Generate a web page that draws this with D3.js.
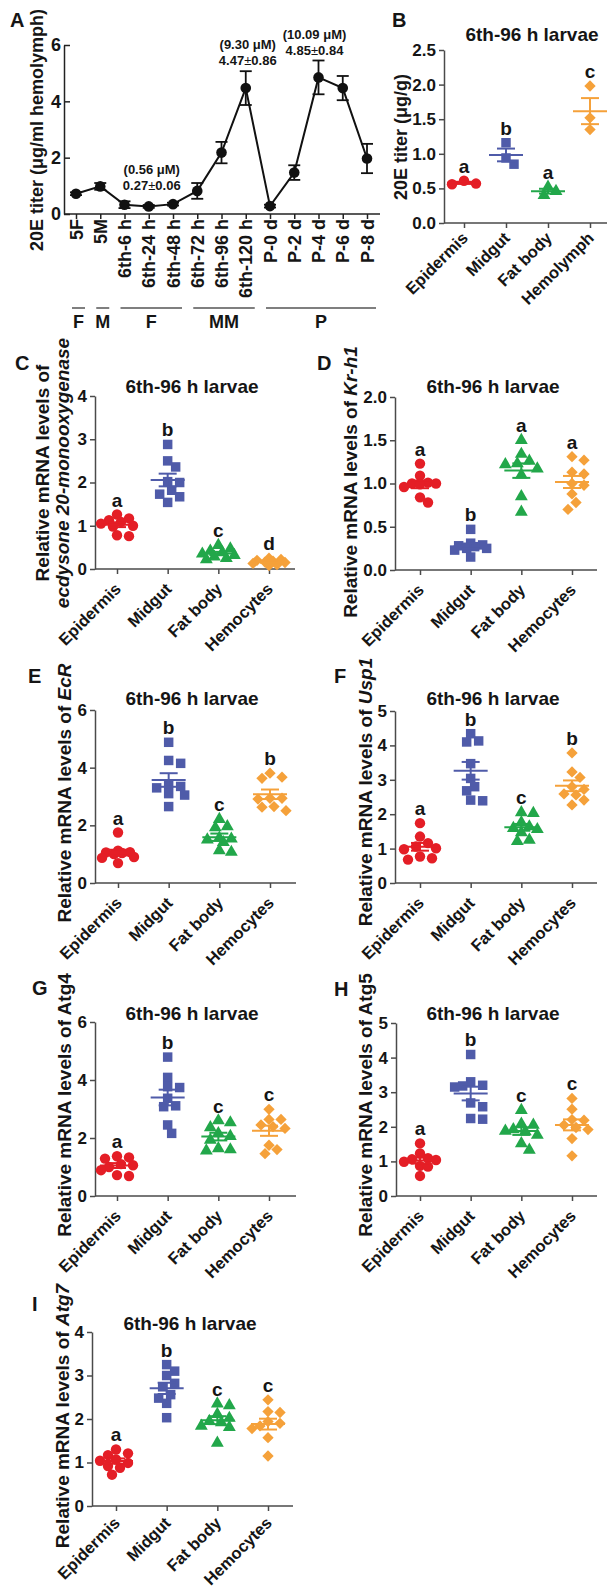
<!DOCTYPE html>
<html><head><meta charset="utf-8">
<script src="https://cdn.jsdelivr.net/npm/d3@7"></script>
<style>
body{margin:0;background:#fff;}
svg{display:block;}
</style></head><body>
<svg id="fig" width="608" height="1589"></svg>
<script>
// ================= DATA =================
// Panel A: 20E titer during development
const stagesA = ["5F","5M","6th-6 h","6th-24 h","6th-48 h","6th-72 h","6th-96 h","6th-120 h","P-0 d","P-2 d","P-4 d","P-6 d","P-8 d"];
const titerA  = [0.72,0.98,0.33,0.27,0.35,0.82,2.18,4.47,0.28,1.47,4.85,4.47,1.97];
const semA    = [0.05,0.12,0.12,0.05,0.05,0.28,0.38,0.60,0.05,0.26,0.60,0.43,0.52];
const groupLabelsA = ["F","M","F","MM","P"];
const groupStartA  = ["5F","5M","6th-6 h","6th-72 h","P-0 d"];
const groupEndA    = ["5F","5M","6th-48 h","6th-120 h","P-8 d"];
const annotStageA  = ["6th-24 h","6th-120 h","P-4 d"];
const annotMolarA  = ["(0.56 μM)","(9.30 μM)","(10.09 μM)"];
const annotMeanA   = ["0.27","4.47","4.85"];
const annotSdA     = ["0.06","0.86","0.84"];
const yTicksA = [0,2,4,6];

// Panel B: 20E titer in tissues
const tissuesB = ["Epidermis","Midgut","Fat body","Hemolymph"];
const titerB = [[0.61,0.57,0.56],[1.16,0.94,0.85],[0.52,0.46,0.40],[1.98,1.52,1.35]];
const lettersB = ["a","b","a","c"];
const yTicksB = [0,0.5,1.0,1.5,2.0,2.5];

// Panels C-I: relative mRNA levels
const tissues = ["Epidermis","Midgut","Fat body","Hemocytes"];
const ecdC  = [[1.26,1.17,1.13,1.09,1.05,1.0,0.98,0.78,0.76],[2.88,2.5,2.36,2.02,2.0,1.82,1.73,1.67,1.54],[0.55,0.47,0.42,0.38,0.35,0.32,0.28,0.25,0.22],[0.25,0.22,0.2,0.18,0.16,0.15,0.13,0.1,0.08]];
const krD   = [[1.23,1.09,1.01,1.0,1.0,0.99,0.96,0.84,0.78],[0.47,0.31,0.29,0.28,0.27,0.25,0.25,0.23,0.15],[1.5,1.34,1.26,1.23,1.22,1.17,1.1,0.85,0.67],[1.31,1.27,1.13,1.11,1.0,0.98,0.88,0.78,0.7]];
const ecrE  = [[1.75,1.12,1.07,1.06,1.04,1.0,0.9,0.87,0.69],[4.88,4.25,4.15,3.42,3.35,3.3,3.1,3.05,2.65],[2.21,1.96,1.92,1.56,1.53,1.5,1.41,1.13,1.07],[3.81,3.63,3.67,2.94,2.91,2.94,2.65,2.63,2.51]];
const uspF  = [[1.74,1.35,1.16,1.06,1.01,0.98,0.77,0.72,0.68],[4.34,4.13,4.1,3.47,3.04,2.8,2.68,2.41,2.39],[2.05,2.03,1.76,1.64,1.59,1.56,1.47,1.25,1.21],[3.78,3.23,3.07,2.8,2.72,2.59,2.56,2.41,2.27]];
const atg4G = [[1.37,1.33,1.29,1.1,1.06,1.0,0.89,0.72,0.69],[4.79,4.09,3.77,3.74,3.37,3.11,3.08,2.45,2.16],[2.6,2.53,2.36,2.16,2.06,1.93,1.64,1.56,1.6],[2.99,2.64,2.64,2.45,2.39,2.33,1.75,1.6,1.46]];
const atg5H = [[1.52,1.23,1.09,1.06,1.04,0.99,0.87,0.85,0.58],[4.09,3.3,3.2,3.18,3.15,2.69,2.58,2.24,2.22],[2.48,2.08,2.05,1.92,1.88,1.86,1.76,1.52,1.33],[2.82,2.51,2.19,2.21,2.05,1.98,1.92,1.66,1.16]];
const atg7I = [[1.3,1.21,1.17,1.07,1.04,0.99,0.92,0.88,0.72],[3.25,3.1,3.0,2.82,2.74,2.56,2.48,2.36,2.03],[2.35,2.31,2.11,2.02,1.95,1.92,1.84,1.81,1.45],[2.44,2.17,2.15,1.94,1.9,1.84,1.78,1.57,1.15]];
const lettersC = ["a","b","c","d"];
const lettersD = ["a","b","a","a"];
const lettersE = ["a","b","c","b"];
const lettersF = ["a","b","c","b"];
const lettersG = ["a","b","c","c"];
const lettersH = ["a","b","c","c"];
const lettersI = ["a","b","c","c"];
const ticksC = [0,1,2,3,4];
const ticksD = [0,0.5,1.0,1.5,2.0];
const ticksE = [0,2,4,6];
const ticksF = [0,1,2,3,4,5];
const ticksG = [0,2,4,6];
const ticksH = [0,1,2,3,4,5];
const ticksI = [0,1,2,3,4];
const titleText = "6th-96 h larvae";

// ================= STYLE =================
const FONT = '"Liberation Sans", Arial, Helvetica, sans-serif';
const COLORS = ["#e41e26","#4f5ba9","#22a74a","#f5a13a"];
const SHAPES = ["circle","square","triangle","diamond"];
const AXIS_COLOR = "#4a4a4a";
const INK = "#151515";

const svg = d3.select("#fig").attr("font-family", FONT);

function meanOf(a){ return d3.mean(a); }
function semOf(a){ return d3.deviation(a)/Math.sqrt(a.length); }

function symbolPath(shape){
  if (shape==="circle") return d3.symbol().type(d3.symbolCircle).size(85)();
  if (shape==="square") return d3.symbol().type(d3.symbolSquare).size(90)();
  if (shape==="triangle") return d3.symbol().type(d3.symbolTriangle).size(72)();
  return d3.symbol().type(d3.symbolSquare).size(64)();
}

// deterministic beeswarm with limited width (points may overlap, like Prism)
function swarm(vals, y, d, maxOff, step){
  const idx = vals.map((v,i)=>i).sort((a,b)=>vals[b]-vals[a]);
  const placed = [];
  const off = new Array(vals.length).fill(0);
  const cands = [0];
  for (let k=step;k<=maxOff+0.01;k+=step){ cands.push(k); cands.push(-k); }
  idx.forEach(i=>{
    const py = y(vals[i]);
    let best = null, bestScore = -1;
    for (const px of cands){
      const md = placed.length ? d3.min(placed, p=>Math.hypot(p[0]-px,p[1]-py)) : Infinity;
      if (md >= d){ best = px; break; }
      if (md > bestScore){ bestScore = md; best = px; }
    }
    off[i]=best; placed.push([best,py]);
  });
  return off;
}

function styleAxis(g, size){
  g.attr("font-family", FONT);
  g.selectAll(".domain").attr("stroke", AXIS_COLOR).attr("stroke-width",1.5);
  g.selectAll(".tick line").attr("stroke", AXIS_COLOR).attr("stroke-width",1.5);
  g.selectAll(".tick text").attr("font-size",size).attr("font-weight","bold").attr("fill",INK);
}

function tag(x,y,t){
  svg.append("text").attr("x",x).attr("y",y).attr("font-size",20).attr("font-weight","bold").attr("fill",INK).text(t);
}

// ================= PANEL A =================
(function(){
  const L = {x0:64, x1:380, xFirst:76, xLast:367, yTop:45, yBot:214, groupY:308, groupLabelY:328,
             annotDx:[3,2,-4], annotGap:[15,6,5]};
  const x = d3.scalePoint().domain(stagesA).range([L.xFirst, L.xLast]);
  const y = d3.scaleLinear().domain([0,6]).range([L.yBot, L.yTop]);
  const g = svg.append("g");

  const ya = g.append("g").attr("transform",`translate(${L.x0},0)`)
    .call(d3.axisLeft(y).tickValues(yTicksA).tickFormat(d3.format("d")).tickSizeInner(-6).tickSizeOuter(0).tickPadding(3));
  styleAxis(ya, 18);
  ya.selectAll(".domain").attr("stroke","#222");
  ya.selectAll(".tick line").attr("stroke","#222");

  const xa = g.append("g").attr("transform",`translate(0,${L.yBot})`)
    .call(d3.axisBottom(x).tickSize(5).tickFormat(""));
  xa.select(".domain").remove();
  styleAxis(xa, 16);
  xa.selectAll(".tick line").attr("stroke","#222");
  g.append("line").attr("x1",L.x0).attr("x2",L.x1).attr("y1",L.yBot).attr("y2",L.yBot).attr("stroke","#222").attr("stroke-width",1.5);

  g.selectAll(".xl").data(stagesA).join("text")
    .attr("transform",d=>`translate(${x(d)+6.5},${L.yBot+5}) rotate(-90)`)
    .attr("text-anchor","end").attr("font-size",18).attr("font-weight","bold").attr("fill",INK).text(d=>d);

  const pts = stagesA.map((s,i)=>[x(s), y(titerA[i])]);
  g.append("path").attr("d", d3.line()(pts)).attr("fill","none").attr("stroke","#111").attr("stroke-width",2);
  stagesA.forEach((s,i)=>{
    const cx = x(s), yt = y(titerA[i]+semA[i]), yb = y(titerA[i]-semA[i]);
    g.append("line").attr("x1",cx).attr("x2",cx).attr("y1",yt).attr("y2",yb).attr("stroke","#111").attr("stroke-width",1.8);
    [yt,yb].forEach(yy=> g.append("line").attr("x1",cx-6).attr("x2",cx+6).attr("y1",yy).attr("y2",yy).attr("stroke","#111").attr("stroke-width",1.8));
  });
  g.selectAll(".pt").data(stagesA).join("circle")
    .attr("cx",d=>x(d)).attr("cy",(d,i)=>y(titerA[i])).attr("r",5.3).attr("fill","#111");

  annotStageA.forEach((s,k)=>{
    const i = stagesA.indexOf(s);
    const cx = x(s)+L.annotDx[k];
    const base2 = y(titerA[i]+semA[i]) - L.annotGap[k];
    g.append("text").attr("x",cx).attr("y",base2-16).attr("text-anchor","middle").attr("font-size",13).attr("font-weight","bold").attr("fill",INK).text(annotMolarA[k]);
    const t = g.append("text").attr("x",cx).attr("y",base2).attr("text-anchor","middle").attr("font-size",13).attr("font-weight","bold").attr("fill",INK);
    t.append("tspan").text(annotMeanA[k]);
    t.append("tspan").attr("font-weight","normal").text("±");
    t.append("tspan").text(annotSdA[k]);
  });

  groupLabelsA.forEach((lab,k)=>{
    const xa0 = x(groupStartA[k]) - 4, xa1 = x(groupEndA[k]) + 9;
    g.append("line").attr("x1",xa0).attr("x2",xa1).attr("y1",L.groupY).attr("y2",L.groupY).attr("stroke","#555").attr("stroke-width",1.5);
    g.append("text").attr("x",(xa0+xa1)/2).attr("y",L.groupLabelY).attr("text-anchor","middle").attr("font-size",18).attr("font-weight","bold").attr("fill",INK).text(lab);
  });

  g.append("text").attr("transform",`translate(43,130) rotate(-90)`).attr("text-anchor","middle")
    .attr("font-size",18).attr("font-weight","bold").attr("fill",INK).text("20E titer (μg/ml hemolymph)");
  tag(10,27,"A");
})();

// ================= SCATTER PANEL DRAWER =================
function scatterPanel(P){
  const g = svg.append("g");
  const x = d3.scalePoint().domain(P.cats).range([P.xFirst, P.xLast]);
  const y = d3.scaleLinear().domain([0, P.ymax]).range([P.yBot, P.yTop]);

  const ya = g.append("g").attr("transform",`translate(${P.x0},0)`)
    .call(d3.axisLeft(y).tickValues(P.ticks).tickFormat(P.fmt).tickSizeInner(5).tickSizeOuter(0).tickPadding(3));
  styleAxis(ya, 17);
  const xa = g.append("g").attr("transform",`translate(0,${P.yBot})`)
    .call(d3.axisBottom(x).tickSize(5).tickFormat(""));
  xa.select(".domain").remove();
  styleAxis(xa, 16);
  g.append("line").attr("x1",P.x0).attr("x2",P.x1).attr("y1",P.yBot).attr("y2",P.yBot).attr("stroke",AXIS_COLOR).attr("stroke-width",1.5);

  g.selectAll(".xl").data(P.cats).join("text")
    .attr("transform",d=>`translate(${x(d)+5},${P.yBot+P.xlDy}) rotate(-45)`)
    .attr("text-anchor","end").attr("font-size",16.5).attr("font-weight","bold").attr("fill",INK).text(d=>d);

  P.data.forEach((vals,i)=>{
    const cx = x(P.cats[i]);
    const off = swarm(vals, y, 9, 16, 4);
    const path = symbolPath(SHAPES[i]);
    vals.forEach((v,j)=>{
      g.append("path").attr("d",path)
        .attr("transform",`translate(${cx+off[j]},${y(v)})${SHAPES[i]==="diamond"?" rotate(45)":""}`)
        .attr("fill",COLORS[i]);
    });
    const m = meanOf(vals), se = semOf(vals);
    g.append("line").attr("x1",cx-17).attr("x2",cx+17).attr("y1",y(m)).attr("y2",y(m)).attr("stroke",COLORS[i]).attr("stroke-width",2);
    g.append("line").attr("x1",cx).attr("x2",cx).attr("y1",y(m+se)).attr("y2",y(m-se)).attr("stroke",COLORS[i]).attr("stroke-width",2);
    [m+se,m-se].forEach(vv=> g.append("line").attr("x1",cx-9).attr("x2",cx+9).attr("y1",y(vv)).attr("y2",y(vv)).attr("stroke",COLORS[i]).attr("stroke-width",2));
    g.append("text").attr("x",cx).attr("y",y(d3.max(vals))-8).attr("text-anchor","middle")
      .attr("font-size",19).attr("font-weight","bold").attr("fill",INK).text(P.letters[i]);
  });

  g.append("text").attr("x",P.titleX).attr("y",P.titleY).attr("text-anchor","middle")
    .attr("font-size",19).attr("font-weight","bold").attr("fill",INK).text(titleText);

  P.ylab.forEach(line=>{
    const t = g.append("text").attr("transform",`translate(${line.x},${P.ylabY}) rotate(-90)`).attr("text-anchor","middle")
      .attr("font-size",P.ylabSize||19).attr("font-weight","bold").attr("fill",INK);
    line.parts.forEach(p=>{ t.append("tspan").attr("font-style",p[1]?"italic":"normal").text(p[0]); });
  });
  tag(P.tagX, P.tagY, P.tag);
}

// ================= PANEL B =================
scatterPanel({cats:tissuesB, data:titerB, letters:lettersB, ymax:2.5, ticks:yTicksB, fmt:d3.format(".1f"),
  x0:444, x1:607, xFirst:464, xLast:590, yTop:50, yBot:223, xlDy:16,
  titleX:532, titleY:41, ylabY:137, ylabSize:18, ylab:[{x:407, parts:[["20E titer (μg/g)",false]]}],
  tag:"B", tagX:392, tagY:27});

// ================= PANELS C-I =================
const fmtInt = d3.format("d");
scatterPanel({cats:tissues, data:ecdC, letters:lettersC, ymax:4, ticks:ticksC, fmt:fmtInt,
  x0:95, x1:295, xFirst:117, xLast:269, yTop:396, yBot:569, xlDy:21,
  titleX:192, titleY:393, ylabY:473,
  ylab:[{x:49, parts:[["Relative mRNA levels of",false]]},{x:69, parts:[["ecdysone 20-monooxygenase",true]]}],
  tag:"C", tagX:15, tagY:370});

scatterPanel({cats:tissues, data:krD, letters:lettersD, ymax:2, ticks:ticksD, fmt:d3.format(".1f"),
  x0:395, x1:597, xFirst:420, xLast:572, yTop:397, yBot:570, xlDy:21,
  titleX:493, titleY:393, ylabY:482,
  ylab:[{x:357, parts:[["Relative mRNA levels of ",false],["Kr-h1",true]]}],
  tag:"D", tagX:317, tagY:370});

scatterPanel({cats:tissues, data:ecrE, letters:lettersE, ymax:6, ticks:ticksE, fmt:fmtInt,
  x0:95, x1:296, xFirst:118, xLast:270, yTop:710, yBot:883, xlDy:21,
  titleX:192, titleY:705, ylabY:793,
  ylab:[{x:71, parts:[["Relative mRNA levels of ",false],["EcR",true]]}],
  tag:"E", tagX:28, tagY:683});

scatterPanel({cats:tissues, data:uspF, letters:lettersF, ymax:5, ticks:ticksF, fmt:fmtInt,
  x0:395, x1:597, xFirst:420, xLast:572, yTop:711, yBot:883, xlDy:21,
  titleX:493, titleY:705, ylabY:792,
  ylab:[{x:372, parts:[["Relative mRNA levels of ",false],["Usp1",true]]}],
  tag:"F", tagX:334, tagY:683});

scatterPanel({cats:tissues, data:atg4G, letters:lettersG, ymax:6, ticks:ticksG, fmt:fmtInt,
  x0:95, x1:296, xFirst:117, xLast:269, yTop:1022, yBot:1196, xlDy:21,
  titleX:192, titleY:1020, ylabY:1105,
  ylab:[{x:71, parts:[["Relative mRNA levels of Atg4",false]]}],
  tag:"G", tagX:32, tagY:995});

scatterPanel({cats:tissues, data:atg5H, letters:lettersH, ymax:5, ticks:ticksH, fmt:fmtInt,
  x0:396, x1:597, xFirst:420, xLast:572, yTop:1023, yBot:1196, xlDy:21,
  titleX:493, titleY:1020, ylabY:1105,
  ylab:[{x:372, parts:[["Relative mRNA levels of Atg5",false]]}],
  tag:"H", tagX:334, tagY:996});

scatterPanel({cats:tissues, data:atg7I, letters:lettersI, ymax:4, ticks:ticksI, fmt:fmtInt,
  x0:92, x1:293, xFirst:116, xLast:268, yTop:1332, yBot:1506, xlDy:18,
  titleX:190, titleY:1330, ylabY:1416,
  ylab:[{x:69, parts:[["Relative mRNA levels of ",false],["Atg7",true]]}],
  tag:"I", tagX:32, tagY:1311});
</script>
</body></html>
